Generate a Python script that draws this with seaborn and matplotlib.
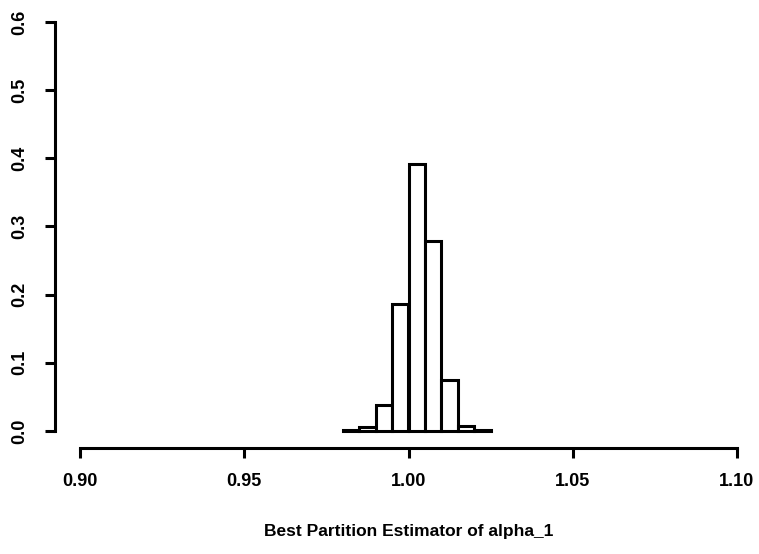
import matplotlib
matplotlib.use("Agg")
import matplotlib.pyplot as plt
import seaborn as sns
import numpy as np
import pandas as pd

bin_edges = [0.980, 0.985, 0.990, 0.995, 1.000, 1.005, 1.010, 1.015, 1.020, 1.025]
rel_freq = [0.002, 0.006, 0.038, 0.187, 0.391, 0.279, 0.075, 0.007, 0.002]
x_ticks = [0.90, 0.95, 1.00, 1.05, 1.10]
x_tick_labels = ["0.90", "0.95", "1.00", "1.05", "1.10"]
y_ticks = [0.0, 0.1, 0.2, 0.3, 0.4, 0.5, 0.6]
y_tick_labels = ["0.0", "0.1", "0.2", "0.3", "0.4", "0.5", "0.6"]
x_label = "Best Partition Estimator of alpha_1"

sns.set_style("ticks")
plt.rcParams['font.family'] = ['Liberation Sans', 'DejaVu Sans']
plt.rcParams['font.weight'] = 'bold'
plt.rcParams['text.color'] = 'black'
plt.rcParams['xtick.color'] = 'black'
plt.rcParams['ytick.color'] = 'black'
plt.rcParams['axes.edgecolor'] = 'black'
plt.rcParams['axes.labelcolor'] = 'black'

centers = [(a + b) / 2 for a, b in zip(bin_edges[:-1], bin_edges[1:])]
df = pd.DataFrame({"x": centers, "w": rel_freq})

fig = plt.figure(figsize=(7.59, 5.54), dpi=100)
ax = fig.add_axes([80/759, 1 - 431/554, (737 - 80)/759, (431 - 22)/554])

sns.histplot(data=df, x="x", weights="w", bins=bin_edges, stat="count",
             color="white", edgecolor="black", linewidth=2.2, alpha=1, ax=ax)

sns.despine(ax=ax)
for s in ["left", "bottom"]:
    ax.spines[s].set_linewidth(2.2)
ax.spines["bottom"].set_position(("outward", 12))
ax.spines["left"].set_position(("outward", 18))

ax.set_xlim(0.90, 1.10)
ax.set_ylim(0.0, 0.6)
ax.set_xticks(x_ticks)
ax.set_xticklabels(x_tick_labels, fontsize=13, fontweight="bold")
ax.set_yticks(y_ticks)
ax.set_yticklabels(y_tick_labels, fontsize=13, fontweight="bold", rotation=90, va="center")
ax.set_xlabel(x_label, fontsize=12.5, fontweight="bold", labelpad=24)
ax.set_ylabel("")

ax.tick_params(axis="both", width=2.2, length=7.5)
ax.tick_params(axis="x", pad=11)
ax.tick_params(axis="y", pad=12)
for sp in ax.patches:
    sp.set_clip_on(False)

fig.savefig("out.png", dpi=100, facecolor="white")
